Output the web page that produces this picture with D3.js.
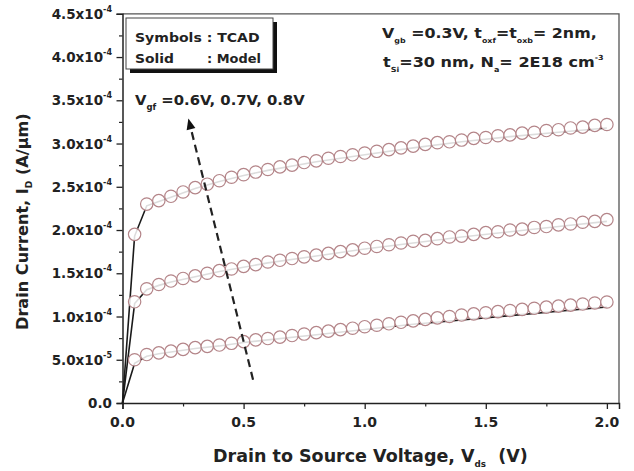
<!DOCTYPE html>
<html>
<head>
<meta charset="utf-8">
<script src="https://cdn.jsdelivr.net/npm/d3@7"></script>
<style>
  html, body { margin: 0; padding: 0; background: #ffffff; }
  svg { display: block; }
  text { font-family: "DejaVu Sans", "Liberation Sans", sans-serif; font-weight: bold; fill: #222; }
</style>
</head>
<body>
<svg id="chart" width="634" height="471"></svg>
<script>
// Drain voltage sweep (V)
const vdsTcad = [0.05, 0.10, 0.15, 0.20, 0.25, 0.30, 0.35, 0.40, 0.45, 0.50,
                 0.55, 0.60, 0.65, 0.70, 0.75, 0.80, 0.85, 0.90, 0.95, 1.00,
                 1.05, 1.10, 1.15, 1.20, 1.25, 1.30, 1.35, 1.40, 1.45, 1.50,
                 1.55, 1.60, 1.65, 1.70, 1.75, 1.80, 1.85, 1.90, 1.95, 2.00];

// TCAD drain current, units of 1e-4 A/um
const tcadVgf08 = [1.95, 2.30, 2.34, 2.39, 2.44, 2.49, 2.53, 2.57, 2.61, 2.64,
                   2.67, 2.70, 2.73, 2.75, 2.78, 2.80, 2.83, 2.85, 2.87, 2.89,
                   2.91, 2.93, 2.95, 2.97, 2.99, 3.01, 3.02, 3.04, 3.06, 3.07,
                   3.09, 3.10, 3.12, 3.13, 3.15, 3.16, 3.18, 3.19, 3.21, 3.22];
const tcadVgf07 = [1.17, 1.32, 1.37, 1.41, 1.44, 1.47, 1.50, 1.53, 1.55, 1.58,
                   1.60, 1.63, 1.65, 1.67, 1.69, 1.71, 1.73, 1.75, 1.77, 1.79,
                   1.81, 1.83, 1.85, 1.87, 1.88, 1.90, 1.92, 1.93, 1.95, 1.97,
                   1.98, 2.00, 2.01, 2.03, 2.04, 2.06, 2.07, 2.09, 2.10, 2.12];
const tcadVgf06 = [0.50, 0.56, 0.58, 0.60, 0.62, 0.64, 0.655, 0.67, 0.69, 0.71,
                   0.73, 0.745, 0.762, 0.78, 0.797, 0.814, 0.831, 0.848, 0.865, 0.882,
                   0.899, 0.916, 0.933, 0.95, 0.967, 0.984, 1.00, 1.017, 1.03, 1.043,
                   1.056, 1.069, 1.082, 1.095, 1.108, 1.12, 1.132, 1.144, 1.156, 1.168];

// Analytical model curves, units of 1e-4 A/um
const vdsModel = [0, 0.05, 0.10, 0.15, 0.20, 0.30, 0.40, 0.50, 0.60, 0.80, 1.00, 1.20, 1.40, 1.60, 1.80, 2.00];
const modelVgf08 = [0, 1.93, 2.28, 2.33, 2.38, 2.48, 2.56, 2.63, 2.69, 2.79, 2.87, 2.95, 3.02, 3.08, 3.13, 3.18];
const modelVgf07 = [0, 1.15, 1.31, 1.36, 1.40, 1.46, 1.52, 1.57, 1.62, 1.70, 1.78, 1.85, 1.92, 1.98, 2.04, 2.10];
const modelVgf06 = [0, 0.46, 0.54, 0.57, 0.59, 0.63, 0.66, 0.70, 0.73, 0.79, 0.85, 0.91, 0.96, 1.01, 1.06, 1.11];

// Axis ticks
const xTickValues = [0, 0.5, 1.0, 1.5, 2.0];
const xTickLabels = ["0.0", "0.5", "1.0", "1.5", "2.0"];
const xMinorTicks = [0.25, 0.75, 1.25, 1.75];
const yTickValues = [0, 0.5, 1.0, 1.5, 2.0, 2.5, 3.0, 3.5, 4.0, 4.5];
const yTickMantissa = ["0.0", "5.0x10", "1.0x10", "1.5x10", "2.0x10", "2.5x10", "3.0x10", "3.5x10", "4.0x10", "4.5x10"];
const yTickExponent = ["", "-5", "-4", "-4", "-4", "-4", "-4", "-4", "-4", "-4"];
const yMinorTicks = [0.25, 0.75, 1.25, 1.75, 2.25, 2.75, 3.25, 3.75, 4.25];

// Arrow across the family of curves (direction of increasing V_gf)
const arrowFrom = [0.539, 0.27];
const arrowTo = [0.272, 3.29];

const svg = d3.select("#chart");
const plot = { left: 122.5, right: 619, top: 13.8, bottom: 403 };

const x = d3.scaleLinear().domain([0, 2.05]).range([plot.left, plot.right]);
const y = d3.scaleLinear().domain([0, 4.5]).range([plot.bottom, plot.top]);

// Rich text: parts are [string, "n" | "sub" | "sup"]
function richText(parent, px, py, parts, opts) {
  const t = parent.append("text")
    .attr("x", px).attr("y", py)
    .attr("font-size", opts.size)
    .attr("text-anchor", opts.anchor || "start");
  let shift = 0;
  parts.forEach(([s, kind]) => {
    const target = kind === "sub" ? opts.subShift : kind === "sup" ? -opts.supShift : 0;
    const ts = t.append("tspan").text(s).attr("dy", target - shift);
    if (kind !== "n") ts.attr("font-size", opts.small);
    shift = target;
  });
  return t;
}

// Stretch a text element horizontally to a given width, keeping its left edge
function fitWidth(t, width) {
  const b = t.node().getBBox();
  const k = width / b.width;
  t.attr("transform", `translate(${b.x},0) scale(${k},1) translate(${-b.x},0)`);
}

// Frame: top and right border
svg.append("path")
  .attr("d", `M${plot.left},${plot.top}H${plot.right}V${plot.bottom}`)
  .attr("fill", "none").attr("stroke", "#555").attr("stroke-width", 1.3);

// Axes
const xAxis = d3.axisBottom(x).tickValues(xTickValues).tickSize(6).tickFormat(() => "");
const gx = svg.append("g").attr("transform", `translate(0,${plot.bottom})`).call(xAxis);
gx.selectAll(".domain").attr("stroke", "#222").attr("stroke-width", 1.5);
gx.selectAll(".tick line").attr("stroke", "#222").attr("stroke-width", 1.3);
const gxm = svg.append("g").attr("transform", `translate(0,${plot.bottom})`)
  .call(d3.axisBottom(x).tickValues(xMinorTicks).tickSize(3.5).tickFormat(() => ""));
gxm.select(".domain").remove();
gxm.selectAll(".tick line").attr("stroke", "#222").attr("stroke-width", 1.2);

const yAxis = d3.axisLeft(y).tickValues(yTickValues).tickSize(6).tickFormat(() => "");
const gy = svg.append("g").attr("transform", `translate(${plot.left},0)`).call(yAxis);
gy.selectAll(".domain").attr("stroke", "#222").attr("stroke-width", 1.5);
gy.selectAll(".tick line").attr("stroke", "#222").attr("stroke-width", 1.3);
const gym = svg.append("g").attr("transform", `translate(${plot.left},0)`)
  .call(d3.axisLeft(y).tickValues(yMinorTicks).tickSize(3.5).tickFormat(() => ""));
gym.select(".domain").remove();
gym.selectAll(".tick line").attr("stroke", "#222").attr("stroke-width", 1.2);

// Tick labels
xTickValues.forEach((v, i) => {
  svg.append("text").attr("x", x(v)).attr("y", plot.bottom + 24)
    .attr("text-anchor", "middle").attr("font-size", 14).text(xTickLabels[i]);
});
yTickValues.forEach((v, i) => {
  const parts = [[yTickMantissa[i], "n"]];
  if (yTickExponent[i]) parts.push([yTickExponent[i], "sup"]);
  richText(svg, 112, y(v) + 5, parts, { size: 13.5, small: 8, supShift: 7, anchor: "end" });
});

// Axis titles
const xt = richText(svg, 213, 462,
  [["Drain to Source Voltage, V", "n"], ["ds", "sub"], ["  (V)", "n"]],
  { size: 18, small: 9, subShift: 5 });
xt.attr("xml:space", "preserve");
fitWidth(xt, 315);

const gyt = svg.append("g").attr("transform", "translate(28,330) rotate(-90)");
const yt = richText(gyt, 0, 0,
  [["Drain Current, I", "n"], ["D", "sub"], [" (A/\u03bcm)", "n"]],
  { size: 16, small: 9, subShift: 4 });
yt.attr("xml:space", "preserve");
fitWidth(yt, 217);

// Model curves
const line = d3.line().x(d => x(d[0])).y(d => y(d[1]));
[modelVgf06, modelVgf07, modelVgf08].forEach(series => {
  svg.append("path")
    .datum(vdsModel.map((v, i) => [v, series[i]]))
    .attr("d", line)
    .attr("fill", "none").attr("stroke", "#1a1a1a").attr("stroke-width", 1.6);
});

// TCAD symbols
[tcadVgf06, tcadVgf07, tcadVgf08].forEach(series => {
  svg.append("g").selectAll("circle")
    .data(vdsTcad.map((v, i) => [v, series[i]]))
    .join("circle")
    .attr("cx", d => x(d[0])).attr("cy", d => y(d[1])).attr("r", 6.2)
    .attr("fill", "#ffffff").attr("fill-opacity", 0.85)
    .attr("stroke", "#b48589").attr("stroke-width", 1.2);
});

// Dashed arrow
const ax1 = x(arrowFrom[0]), ay1 = y(arrowFrom[1]);
const ax2 = x(arrowTo[0]), ay2 = y(arrowTo[1]);
const ang = Math.atan2(ay2 - ay1, ax2 - ax1);
const headLen = 11, headW = 4.5;
const bx = ax2 - headLen * Math.cos(ang), by = ay2 - headLen * Math.sin(ang);
svg.append("line")
  .attr("x1", ax1).attr("y1", ay1).attr("x2", bx).attr("y2", by)
  .attr("stroke", "#222").attr("stroke-width", 2.2).attr("stroke-dasharray", "8,5");
svg.append("path")
  .attr("d", `M${ax2},${ay2}L${bx + headW * Math.sin(ang)},${by - headW * Math.cos(ang)}L${bx - headW * Math.sin(ang)},${by + headW * Math.cos(ang)}Z`)
  .attr("fill", "#111");

// Legend box with drop shadow
svg.append("rect").attr("x", 130).attr("y", 22).attr("width", 147).attr("height", 51).attr("fill", "#111");
svg.append("rect").attr("x", 126).attr("y", 18).attr("width", 147).attr("height", 51)
  .attr("fill", "#ffffff").attr("stroke", "#444").attr("stroke-width", 1);
const lg1 = svg.append("text").attr("x", 135).attr("y", 42).attr("font-size", 13).text("Symbols : TCAD");
fitWidth(lg1, 125);
const lg2a = svg.append("text").attr("x", 135).attr("y", 63).attr("font-size", 13).text("Solid");
fitWidth(lg2a, 39);
const lg2b = svg.append("text").attr("x", 207).attr("y", 63).attr("font-size", 13).text(": Model");
fitWidth(lg2b, 54);

// Annotations
const vgf = richText(svg, 135, 105,
  [["V", "n"], ["gf", "sub"], [" =0.6V, 0.7V, 0.8V", "n"]],
  { size: 14, small: 8, subShift: 5 });
fitWidth(vgf, 170);

const p1 = richText(svg, 382, 38,
  [["V", "n"], ["gb", "sub"], [" =0.3V, t", "n"], ["oxf", "sub"], ["=t", "n"], ["oxb", "sub"], ["= 2nm,", "n"]],
  { size: 14, small: 7, subShift: 5 });
fitWidth(p1, 215);
const p2 = richText(svg, 383, 67,
  [["t", "n"], ["Si", "sub"], ["=30 nm, N", "n"], ["a", "sub"], ["= 2E18 cm", "n"], ["-3", "sup"]],
  { size: 14, small: 7, subShift: 5, supShift: 7 });
fitWidth(p2, 221);
</script>
</body>
</html>
